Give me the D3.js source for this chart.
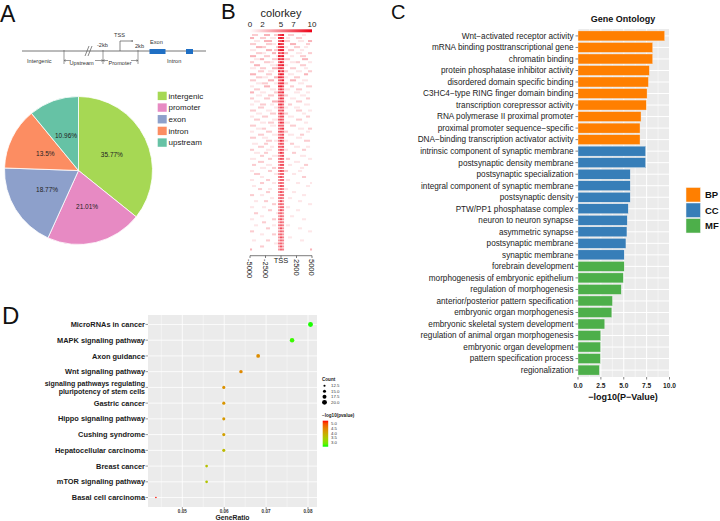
<!DOCTYPE html>
<html><head><meta charset="utf-8">
<script src="https://cdn.jsdelivr.net/npm/d3@7"></script>
<style>body{margin:0;background:#fff} svg{display:block} text{font-family:"Liberation Sans",Arial,sans-serif}</style>
</head><body><svg id="c" width="720" height="521"></svg>
<script>
// ---------------- DATA ----------------
const pieCategories = ["intergenic","promoter","exon","intron","upstream"];
const pieValues = [35.77, 21.01, 18.77, 13.5, 10.96];
const pieLabels = ["35.77%","21.01%","18.77%","13.5%","10.96%"];
const pieColors = ["#a6d854","#e78ac3","#8da0cb","#fc8d62","#66c2a5"];

const colorkeyTicks = [0, 2, 5, 7, 10];
const heatAxisPos = [-5000, -2500, 0, 2500, 5000];
const heatAxisLabels = ["-5000","-2500","TSS","2500","5000"];
// heatmap intensity (0-9), left | around TSS | right
const heatRows = [
"02220003330022|789|00222000011000",
"33000222001110|898|01100022200000",
"00111003333000|679|22200001110033",
"22200000222110|987|00033300000220",
"00033322000002|788|11000222001100",
"11100000333022|899|00222000110000",
"00022211000330|768|33000011100022",
"33300002220001|989|00011000222000",
"00111330000222|878|22200000033300",
"22000002221100|697|00011122000011",
"00333000001112|889|11000000222000",
"11100222000333|787|00022200001100",
"00002220011100|968|22000011100022",
"33300000222000|798|00111000003300",
"00022211100033|887|11000222000000",
"22200000033300|679|00033300011100",
"00011122200011|788|22000001110000",
"11000003330000|897|00022000000222",
"00222000001110|686|11100022200000",
"33000111000022|778|00000111000110",
"00011100022200|676|22000000111000",
"22000002220000|587|00011100000220",
"00111000000333|677|10000022200000",
"11000222001100|786|00220000001110",
"00002220000011|576|11000111000000",
"22200000111000|667|00000022200011",
"00011100002220|686|22000000011000",
"11000022200000|577|00111000000220",
"00222000000111|676|00000022200000",
"00000111022200|587|11100000001100",
"22200000001110|666|00022200000000",
"00011122000000|578|00000001110022",
"11000000222000|676|22000000000110",
"00002220000111|567|00111000220000",
"22200011100000|677|00000011100000",
"00000000222011|586|11000000002220",
"01110002200000|576|00022000000000",
"00002220001100|667|00000111000110",
"22000000111000|576|11000000022000",
"00111002200000|586|00002200000000",
"00000220000111|467|00000000111000",
"11100000022000|576|02200000000011",
"00002220000000|566|00000111000000",
"02200000111000|477|00110000002200",
"00000111000220|565|00000000110000",
"11000000022000|576|22000001100000",
"00222000000011|466|00001100000000",
"00000110000000|575|00000000022000",
"11000000220000|466|01100000000000",
"00000220000110|565|00000011000001",
"01100000000000|476|00000000000110",
"00002200011000|465|11000000000000",
"00000000220000|575|00001100000000",
"22000110000000|466|00000000011000",
"00000000001100|565|00110000000000",
"00110002200000|474|00000001100000",
"00000000000220|565|00000000000011",
"11000011000000|466|01100000000000",
"00000000022000|475|00000011000000",
"00220000000001|564|00000000000000",
"00000110000000|465|00011000000000",
"11000000000220|574|00000000011000",
"00000022000000|465|00000000000000",
"00110000000110|565|01100000000000",
"00000000220000|474|00000001100000",
"22000000000000|465|00000000000011",
"00000110000220|564|00000000000000",
"00000000000000|475|00110000000000",
"01100000220000|465|00000000110000",
"00000000000011|564|00000000000000",
"00000220000000|474|00000000000000",
"30000000000000|465|00000000000003"
];

const goTerms = [
"Wnt−activated receptor activity","mRNA binding posttranscriptional gene","chromatin binding",
"protein phosphatase inhibitor activity","disordered domain specific binding","C3HC4−type RING finger domain binding",
"transcription corepressor activity","RNA polymerase II proximal promoter","proximal promoter sequence−specific",
"DNA−binding transcription activator activity",
"intrinsic component of synaptic membrane","postsynaptic density membrane","postsynaptic specialization",
"integral component of synaptic membrane","postsynaptic density","PTW/PP1 phosphatase complex",
"neuron to neuron synapse","asymmetric synapse","postsynaptic membrane","synaptic membrane",
"forebrain development","morphogenesis of embryonic epithelium","regulation of morphogenesis",
"anterior/posterior pattern specification","embryonic organ morphogenesis","embryonic skeletal system development",
"regulation of animal organ morphogenesis","embryonic organ development","pattern specification process","regionalization"];
const goValues = [9.48,8.17,8.17,7.8,7.7,7.55,7.47,6.89,6.78,6.78,
  7.4,7.4,5.71,5.71,5.71,5.49,5.38,5.35,5.24,5.05,
  5.05,4.95,4.73,3.77,3.70,2.93,2.49,2.47,2.45,2.34];
const goGroups = ["BP","BP","BP","BP","BP","BP","BP","BP","BP","BP",
  "CC","CC","CC","CC","CC","CC","CC","CC","CC","CC",
  "MF","MF","MF","MF","MF","MF","MF","MF","MF","MF"];
const goLegend = ["BP","CC","MF"];
const goColors = ["#ff7f00","#377eb8","#4daf4a"];
const goTicks = [0, 2.5, 5, 7.5, 10];

const keggTerms = ["MicroRNAs in cancer","MAPK signaling pathway","Axon guidance","Wnt signaling pathway",
  "signaling pathways regulating\npluripotency of stem cells","Gastric cancer","Hippo signaling pathway",
  "Cushing syndrome","Hepatocellular carcinoma","Breast cancer","mTOR signaling pathway","Basal cell carcinoma"];
const keggCount = [20,19,17,16,15,15,15,15,15,14,14,11];
const keggRatio = [0.0806,0.0762,0.0681,0.0640,0.0599,0.0599,0.0599,0.0599,0.0599,0.0558,0.0558,0.0437];
const keggLogP = [2.55,2.62,4.35,4.4,4.3,4.25,4.2,4.1,3.7,3.6,3.55,5.3];
const ratioTicks = [0.05,0.06,0.07,0.08];
const ratioMinor = [0.045,0.055,0.065,0.075];
const countTicks = [12.5,15.0,17.5,20.0];
const logpTicks = [5.0,4.5,4.0,3.5,3.0];

// ---------------- DRAW ----------------
const svg = d3.select("#c");

function letter(t,x,y,s){svg.append("text").attr("x",x).attr("y",y).attr("font-size",s).attr("fill","#111").text(t);}
letter("A",0,21.5,23); letter("B",221,18.5,22); letter("C",391,19,20); letter("D",2,323.5,24);

// ----- Panel A: gene diagram -----
const gA = svg.append("g");
const dg = "#555";
gA.append("line").attr("x1",22).attr("x2",206).attr("y1",51).attr("y2",51).attr("stroke","#777").attr("stroke-width",1);
[64,103,138].forEach(x=>gA.append("line").attr("x1",x).attr("x2",x).attr("y1",50).attr("y2",64).attr("stroke",dg).attr("stroke-width",0.6));
[[85,56,89,46],[88,56,92,46]].forEach(d=>gA.append("line").attr("x1",d[0]).attr("y1",d[1]).attr("x2",d[2]).attr("y2",d[3]).attr("stroke",dg).attr("stroke-width",0.7));
const defs = svg.append("defs");
defs.append("marker").attr("id","ah").attr("viewBox","0 0 10 10").attr("refX",9).attr("refY",5).attr("markerWidth",4).attr("markerHeight",4).attr("orient","auto-start-reverse")
  .append("path").attr("d","M0,0L10,5L0,10").attr("fill","none").attr("stroke",dg).attr("stroke-width",1.5);
[[64,71],[95,103],[103,108],[131,138]].forEach(d=>{
  gA.append("line").attr("x1",d[0]).attr("x2",d[1]).attr("y1",60.5).attr("y2",60.5).attr("stroke",dg).attr("stroke-width",0.6)
   .attr("marker-start", d[0]===64||d[0]===103 ? "url(#ah)" : null).attr("marker-end", d[1]===103||d[1]===138 ? "url(#ah)" : null);
});
gA.append("path").attr("d","M120,51V41H133").attr("fill","none").attr("stroke",dg).attr("stroke-width",0.7).attr("marker-end","url(#ah)");
gA.append("rect").attr("x",149.5).attr("y",49).attr("width",16).attr("height",5).attr("fill","#1f6fc4");
gA.append("rect").attr("x",186).attr("y",49).attr("width",7).attr("height",5).attr("fill","#1f6fc4");
const dtext = [["Intergenic",27,62.5],["Upstream",69.5,65],["Promoter",108.5,65],["-2kb",97,47],["TSS",114,37],["2kb",135,48],["Exon",150,44],["Intron",167,62.5]];
dtext.forEach(d=>gA.append("text").attr("x",d[1]).attr("y",d[2]).attr("font-size",5.6).attr("fill","#333").text(d[0]));

// ----- Panel A: pie -----
const pie = d3.pie().sort(null).value(d=>d)(pieValues);
const arc = d3.arc().innerRadius(0).outerRadius(74);
const gPie = svg.append("g").attr("transform","translate(78.5,170.5)");
gPie.selectAll("path").data(pie).join("path").attr("d",arc).attr("fill",(d,i)=>pieColors[i]).attr("stroke","#fff").attr("stroke-width",0.8);
const lab = d3.arc().innerRadius(37).outerRadius(37);
gPie.selectAll("text").data(pie).join("text").attr("transform",d=>`translate(${lab.centroid(d)})`)
  .attr("text-anchor","middle").attr("dy","0.35em").attr("font-size",6.5).attr("fill","#222").text((d,i)=>pieLabels[i]);
const gLegA = svg.append("g");
pieCategories.forEach((c,i)=>{
  gLegA.append("rect").attr("x",157.7).attr("y",91.7+i*11.67).attr("width",9).attr("height",8.4).attr("fill",pieColors[i]);
  gLegA.append("text").attr("x",168.5).attr("y",98.8+i*11.67).attr("font-size",8).attr("fill","#222").text(c);
});

// ----- Panel B: heatmap -----
const gB = svg.append("g");
svg.append("text").attr("x",281).attr("y",17).attr("text-anchor","middle").attr("font-size",11).attr("fill","#222").text("colorkey");
const ck = d3.scaleLinear().domain([0,10]).range([250,312]);
const heatColor = d3.scaleLinear().domain([0,10]).range(["#ffffff","#ec0016"]);
const grad = defs.append("linearGradient").attr("id","ckg");
grad.append("stop").attr("offset","0%").attr("stop-color","#ffffff");
grad.append("stop").attr("offset","100%").attr("stop-color","#ec0016");
gB.append("rect").attr("x",ck(0)).attr("y",29.3).attr("width",ck(10)-ck(0)).attr("height",3).attr("fill","url(#ckg)");
colorkeyTicks.forEach(t=>gB.append("text").attr("x",ck(t)).attr("y",27).attr("text-anchor","middle").attr("font-size",8).attr("fill","#222").text(t));
const rows = heatRows.map(r=>r.replace(/\|/g,"").split("").map(Number));
const hy = d3.scaleBand().domain(d3.range(rows.length)).range([33.5,251]);
rows.forEach((r,i)=>{
  const hx = d3.scaleBand().domain(d3.range(r.length)).range([250,312]);
  r.forEach((v,j)=>{ if(v>0) gB.append("rect").attr("x",hx(j)).attr("y",hy(i)+0.5).attr("width",hx.bandwidth()+0.05).attr("height",hy.bandwidth()-1).attr("fill",heatColor(v)); });
});
const hxAxis = d3.scaleLinear().domain([-5000,5000]).range([250,312]);
gB.append("line").attr("x1",250).attr("x2",312).attr("y1",255.7).attr("y2",255.7).attr("stroke","#444").attr("stroke-width",0.7);
heatAxisPos.forEach((p,i)=>{
  const x = hxAxis(p);
  gB.append("line").attr("x1",x).attr("x2",x).attr("y1",255.7).attr("y2",258).attr("stroke","#444").attr("stroke-width",0.7);
  if(heatAxisLabels[i]==="TSS") gB.append("text").attr("x",x).attr("y",263).attr("text-anchor","middle").attr("font-size",7.5).attr("fill","#222").text("TSS");
  else gB.append("text").attr("transform",`translate(${x-2.7},259) rotate(90)`).attr("font-size",7.5).attr("fill","#222").text(heatAxisLabels[i]);
});

// ----- Panel C: GO bars -----
const gC = svg.append("g");
const cx = d3.scaleLinear().domain([0,10]).range([578,669.5]);
const cy = d3.scalePoint().domain(goTerms).range([29,377]).padding(0.6);
gC.append("rect").attr("x",578).attr("y",29).attr("width",92).attr("height",348).attr("fill","#ebebeb");
[1.25,3.75,6.25,8.75].forEach(t=>gC.append("line").attr("x1",cx(t)).attr("x2",cx(t)).attr("y1",29).attr("y2",377).attr("stroke","#fff").attr("stroke-width",0.5));
goTicks.forEach(t=>gC.append("line").attr("x1",cx(t)).attr("x2",cx(t)).attr("y1",29).attr("y2",377).attr("stroke","#fff").attr("stroke-width",1));
goTerms.forEach(t=>gC.append("line").attr("x1",578).attr("x2",670).attr("y1",cy(t)).attr("y2",cy(t)).attr("stroke","#fff").attr("stroke-width",1));
const bh = 10;
gC.selectAll("rect.bar").data(goTerms).join("rect").attr("class","bar")
  .attr("x",cx(0)).attr("y",t=>cy(t)-bh/2).attr("height",bh)
  .attr("width",(t,i)=>cx(goValues[i])-cx(0)).attr("fill",(t,i)=>goColors[goLegend.indexOf(goGroups[i])])
  .attr("stroke","#f4f4f4").attr("stroke-width",0.4);
goTerms.forEach(t=>{
  gC.append("line").attr("x1",575.5).attr("x2",578).attr("y1",cy(t)).attr("y2",cy(t)).attr("stroke","#333").attr("stroke-width",0.6);
  gC.append("text").attr("x",573.5).attr("y",cy(t)).attr("dy","0.35em").attr("text-anchor","end").attr("font-size",8.2).attr("fill","#222").text(t);
});
goTicks.forEach(t=>{
  gC.append("line").attr("x1",cx(t)).attr("x2",cx(t)).attr("y1",377).attr("y2",379.5).attr("stroke","#333").attr("stroke-width",0.6);
  gC.append("text").attr("x",cx(t)).attr("y",388).attr("text-anchor","middle").attr("font-size",6.6).attr("font-weight","bold").attr("fill","#222").text(t.toFixed(1));
});
gC.append("text").attr("x",623).attr("y",400).attr("text-anchor","middle").attr("font-size",9).attr("font-weight","bold").attr("fill","#111").text("−log10(P−Value)");
gC.append("text").attr("x",623).attr("y",22).attr("text-anchor","middle").attr("font-size",9).attr("font-weight","bold").attr("fill","#111").text("Gene Ontology");
goLegend.forEach((g,i)=>{
  gC.append("rect").attr("x",686).attr("y",187.5+i*15.5).attr("width",14.5).attr("height",14.5).attr("fill",goColors[i]).attr("stroke","#f4f4f4").attr("stroke-width",0.5);
  gC.append("text").attr("x",705).attr("y",195+i*15.5).attr("dy","0.35em").attr("font-size",9.5).attr("font-weight","bold").attr("fill","#111").text(g);
});

// ----- Panel D: KEGG dot plot -----
const gD = svg.append("g");
const dx = d3.scaleLinear().domain([0.04181,0.08215]).range([148,317]);
const dy = d3.scalePoint().domain(keggTerms).range([315,507]).padding(0.6);
const dcol = d3.scaleLinear().domain([2.53,5.32]).range(["#00ff00","#ff0000"]).interpolate(d3.interpolateLab);
const dr = d3.scaleLinear().domain([11,20]).range([0.8,2.45]);
gD.append("rect").attr("x",148).attr("y",315).attr("width",169).attr("height",192).attr("fill","#ebebeb");
ratioMinor.forEach(t=>gD.append("line").attr("x1",dx(t)).attr("x2",dx(t)).attr("y1",315).attr("y2",507).attr("stroke","#fff").attr("stroke-width",0.4));
ratioTicks.forEach(t=>gD.append("line").attr("x1",dx(t)).attr("x2",dx(t)).attr("y1",315).attr("y2",507).attr("stroke","#fff").attr("stroke-width",0.8));
keggTerms.forEach(t=>gD.append("line").attr("x1",148).attr("x2",317).attr("y1",dy(t)).attr("y2",dy(t)).attr("stroke","#fff").attr("stroke-width",0.8));
keggTerms.forEach((t,i)=>{
  gD.append("circle").attr("cx",dx(keggRatio[i])).attr("cy",dy(t)).attr("r",dr(keggCount[i])).attr("fill",dcol(keggLogP[i]));
  gD.append("line").attr("x1",145.5).attr("x2",148).attr("y1",dy(t)).attr("y2",dy(t)).attr("stroke","#333").attr("stroke-width",0.5);
  const lines = t.split("\n");
  const fs = lines.length>1 ? 7 : 7.4;
  const tx = gD.append("text").attr("x",145).attr("text-anchor","end").attr("font-size",fs).attr("font-weight","bold").attr("fill","#1a1a1a");
  lines.forEach((l,k)=>tx.append("tspan").attr("x",145).attr("y",dy(t)+(k-(lines.length-1)/2)*8).attr("dy","0.35em").text(l));
});
ratioTicks.forEach(t=>{
  gD.append("line").attr("x1",dx(t)).attr("x2",dx(t)).attr("y1",507).attr("y2",509).attr("stroke","#333").attr("stroke-width",0.5);
  gD.append("text").attr("x",dx(t)).attr("y",513).attr("text-anchor","middle").attr("font-size",4.6).attr("font-weight","bold").attr("fill","#333").text(t.toFixed(2));
});
gD.append("text").attr("x",232.5).attr("y",520).attr("text-anchor","middle").attr("font-size",6.8).attr("font-weight","bold").attr("fill","#222").text("GeneRatio");
gD.append("text").attr("x",322).attr("y",381).attr("font-size",4.6).attr("font-weight","bold").attr("fill","#222").text("Count");
countTicks.forEach((c,i)=>{
  gD.append("circle").attr("cx",324.5).attr("cy",385.7+i*5.55).attr("r",dr(c)).attr("fill","#000");
  gD.append("text").attr("x",331).attr("y",385.7+i*5.55).attr("dy","0.35em").attr("font-size",4.3).attr("fill","#333").text(c.toFixed(1));
});
gD.append("text").attr("x",322).attr("y",416.5).attr("font-size",4.6).attr("font-weight","bold").attr("fill","#222").text("−log10(pvalue)");
const lg = defs.append("linearGradient").attr("id","lpg").attr("x1",0).attr("x2",0).attr("y1",0).attr("y2",1);
d3.range(0,1.01,0.1).forEach(o=>lg.append("stop").attr("offset",o).attr("stop-color",dcol(5.32-o*(5.32-2.53))));
gD.append("rect").attr("x",322.7).attr("y",420.7).attr("width",5.5).attr("height",26).attr("fill","url(#lpg)");
const ly = d3.scaleLinear().domain([5.32,2.53]).range([420.7,446.7]);
logpTicks.forEach(v=>gD.append("text").attr("x",331).attr("y",ly(v)).attr("dy","0.35em").attr("font-size",4.3).attr("fill","#333").text(v.toFixed(1)));
</script></body></html>
